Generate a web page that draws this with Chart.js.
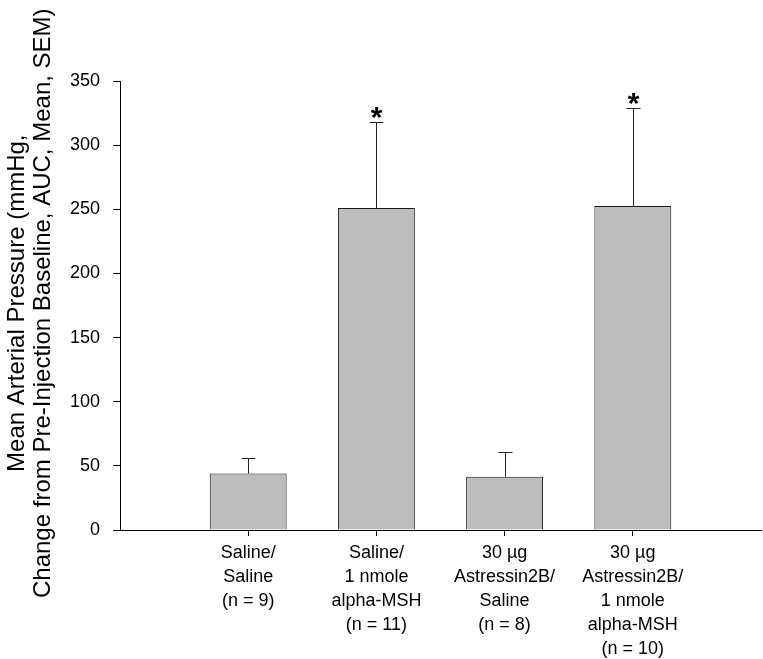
<!DOCTYPE html>
<html>
<head>
<meta charset="utf-8">
<script src="https://cdn.jsdelivr.net/npm/chart.js@4/dist/chart.umd.min.js"></script>
<style>
  html, body { margin: 0; padding: 0; background: #fff; }
  #wrap { width: 763px; height: 659px; }
</style>
</head>
<body>
<div id="wrap"><canvas id="c" width="763" height="659"></canvas></div>
<script>
// ---- data ----
const categories = [
  ["Saline/", "Saline", "(n = 9)"],
  ["Saline/", "1 nmole", "alpha-MSH", "(n = 11)"],
  ["30 \u00b5g", "Astressin2B/", "Saline", "(n = 8)"],
  ["30 \u00b5g", "Astressin2B/", "1 nmole", "alpha-MSH", "(n = 10)"]
];
const meanValues = [44, 251, 41.5, 252.5];
const semValues = [12.5, 67, 19.5, 76.5];
const significant = [false, true, false, true];
const yTicks = [0, 50, 100, 150, 200, 250, 300, 350];
const yTitleLines = ["Mean Arterial Pressure (mmHg,", "Change from Pre-Injection Baseline, AUC, Mean, SEM)"];

const FONT = "'Liberation Sans', Arial, Helvetica, sans-serif";

const positions = categories.map((c, i) => i + 1);

const errorBarPlugin = {
  id: 'errorBars',
  afterDatasetsDraw(chart) {
    const ctx = chart.ctx;
    const xs = chart.scales.x, ys = chart.scales.y;
    ctx.save();
    ctx.strokeStyle = '#222';
    ctx.lineWidth = 1;
    meanValues.forEach((m, i) => {
      const x = Math.round(xs.getPixelForValue(positions[i])) + 0.5;
      const yTop = ys.getPixelForValue(m);
      const yErr = Math.round(ys.getPixelForValue(m + semValues[i])) + 0.5;
      ctx.beginPath();
      ctx.moveTo(x, yTop);
      ctx.lineTo(x, yErr);
      ctx.moveTo(x - 7, yErr);
      ctx.lineTo(x + 7, yErr);
      ctx.stroke();
      if (significant[i]) {
        ctx.fillStyle = '#000';
        ctx.font = 'bold 30px ' + FONT;
        ctx.textAlign = 'center';
        ctx.textBaseline = 'alphabetic';
        ctx.fillText('*', x, yErr + 4);
      }
    });
    ctx.restore();
  }
};

const yTitlePlugin = {
  id: 'yTitle',
  afterDraw(chart) {
    const ctx = chart.ctx;
    ctx.save();
    ctx.fillStyle = '#000';
    ctx.font = '24px ' + FONT;
    ctx.textAlign = 'center';
    ctx.textBaseline = 'middle';
    const w2 = ctx.measureText(yTitleLines[1]).width;
    const centerY = 598 - w2 / 2;
    const xs = [17, 43];
    yTitleLines.forEach((t, i) => {
      ctx.save();
      ctx.translate(xs[i], centerY);
      ctx.rotate(-Math.PI / 2);
      ctx.fillText(t, 0, 0);
      ctx.restore();
    });
    ctx.restore();
  }
};

new Chart(document.getElementById('c'), {
  type: 'bar',
  data: {
    datasets: [{
      data: meanValues.map((v, i) => ({ x: positions[i], y: v })),
      backgroundColor: '#bdbdbd',
      borderColor: '#1a1a1a',
      borderWidth: 1,
      barPercentage: 0.6,
      categoryPercentage: 1.0
    }]
  },
  options: {
    responsive: false,
    animation: false,
    devicePixelRatio: 1,
    layout: { padding: { left: 0, top: 81, right: 2, bottom: 0 } },
    plugins: { legend: { display: false }, tooltip: { enabled: false } },
    scales: {
      x: {
        type: 'linear',
        min: 0,
        max: 5,
        offset: false,
        afterBuildTicks(scale) { scale.ticks = positions.map(v => ({ value: v })); },
        afterFit(scale) { scale.height = 129; },
        grid: { offset: false, drawOnChartArea: false, drawTicks: true, tickLength: 6, color: '#000', tickColor: '#000' },
        border: { display: true, color: '#000', width: 1 },
        ticks: {
          autoSkip: false,
          maxRotation: 0,
          padding: 5,
          color: '#000',
          font: { family: FONT, size: 18, lineHeight: 1.333 },
          callback(value) { return categories[Math.round(value) - 1] || ''; }
        }
      },
      y: {
        min: 0,
        max: 350,
        afterBuildTicks(scale) { scale.ticks = yTicks.map(v => ({ value: v })); },
        afterFit(scale) { scale.width = 120; },
        grid: { drawOnChartArea: false, drawTicks: true, tickLength: 7, color: '#000', tickColor: '#000' },
        border: { display: true, color: '#000', width: 1 },
        ticks: {
          padding: 13,
          color: '#000',
          font: { family: FONT, size: 18 }
        }
      }
    }
  },
  plugins: [errorBarPlugin, yTitlePlugin]
});
</script>
</body>
</html>
